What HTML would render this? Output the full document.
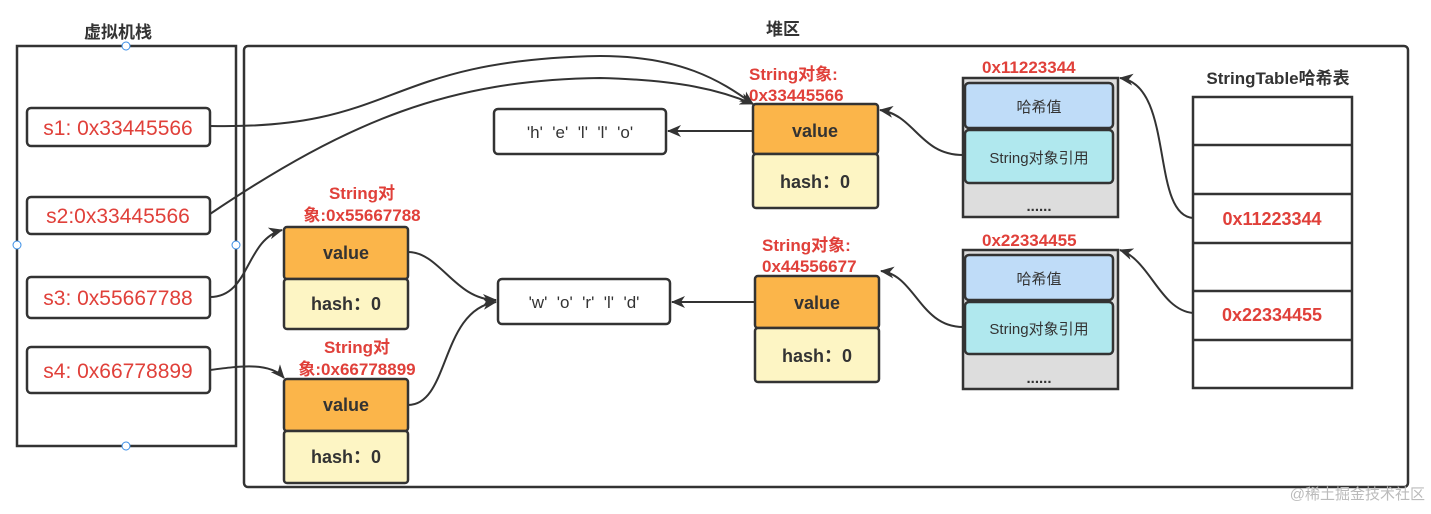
<!DOCTYPE html>
<html><head><meta charset="utf-8"><style>
body{margin:0;background:#fff}
svg text{font-family:"Liberation Sans","Noto Sans CJK SC",sans-serif}
</style></head><body>
<svg width="1431" height="509" viewBox="0 0 1431 509" xmlns="http://www.w3.org/2000/svg">
<defs><marker id="a" markerWidth="14" markerHeight="12" refX="13" refY="6" orient="auto" markerUnits="userSpaceOnUse"><path d="M0,0 L14,6 L0,12 L4,6 z" fill="#333"/></marker></defs>
<g fill="none" stroke="#333" stroke-width="2.5">
<rect x="17" y="46" width="219" height="400"/>
<rect x="244" y="46" width="1164" height="441" rx="4"/>
</g>
<g fill="#fff" stroke="#3a8ee6" stroke-width="1"><circle cx="126" cy="46" r="4"/><circle cx="17" cy="245" r="4"/><circle cx="236" cy="245" r="4"/><circle cx="126" cy="446" r="4"/></g>
<text x="118" y="38" font-size="17" font-weight="bold" text-anchor="middle" fill="#333">虚拟机栈</text>
<text x="783" y="35" font-size="17" font-weight="bold" text-anchor="middle" fill="#333">堆区</text>
<g fill="#fff" stroke="#333" stroke-width="2.5">
<rect x="27" y="108" width="183" height="38" rx="4"/>
<rect x="27" y="197" width="183" height="37" rx="4"/>
<rect x="27" y="277" width="183" height="41" rx="4"/>
<rect x="27" y="347" width="183" height="46" rx="4"/>
<rect x="494" y="109" width="172" height="45" rx="4"/>
<rect x="498" y="279" width="172" height="45" rx="4"/>
</g>
<g font-size="21" fill="#e0403a" text-anchor="middle">
<text x="118" y="135">s1: 0x33445566</text>
<text x="118" y="223">s2:0x33445566</text>
<text x="118" y="305">s3: 0x55667788</text>
<text x="118" y="378">s4: 0x66778899</text>
</g>
<g font-size="17" fill="#333" text-anchor="middle">
<text x="580" y="138" xml:space="preserve">'h'  'e'  'l'  'l'  'o'</text>
<text x="584" y="308" xml:space="preserve">'w'  'o'  'r'  'l'  'd'</text>
</g>
<g stroke="#333" stroke-width="2.5">
<rect x="284" y="227" width="124" height="52" rx="3" fill="#fbb54a"/><rect x="284" y="279" width="124" height="50" rx="3" fill="#fdf5c4"/>
<rect x="284" y="379" width="124" height="52" rx="3" fill="#fbb54a"/><rect x="284" y="431" width="124" height="52" rx="3" fill="#fdf5c4"/>
<rect x="753" y="104" width="125" height="50" rx="3" fill="#fbb54a"/><rect x="753" y="154" width="125" height="54" rx="3" fill="#fdf5c4"/>
<rect x="755" y="276" width="124" height="52" rx="3" fill="#fbb54a"/><rect x="755" y="328" width="124" height="54" rx="3" fill="#fdf5c4"/>
</g>
<g font-size="18" font-weight="bold" fill="#333" text-anchor="middle">
<text x="346" y="259">value</text><text x="346" y="310">hash：0</text>
<text x="346" y="411">value</text><text x="346" y="463">hash：0</text>
<text x="815" y="137">value</text><text x="815" y="188">hash：0</text>
<text x="817" y="309">value</text><text x="817" y="362">hash：0</text>
</g>
<g font-size="17" font-weight="bold" fill="#e0403a">
<text x="362" y="199" text-anchor="middle">String对</text><text x="362" y="221" text-anchor="middle">象:0x55667788</text>
<text x="357" y="353" text-anchor="middle">String对</text><text x="357" y="375" text-anchor="middle">象:0x66778899</text>
<text x="749" y="80">String对象:</text><text x="749" y="101">0x33445566</text>
<text x="762" y="251">String对象:</text><text x="762" y="272">0x44556677</text>
<text x="982" y="73">0x11223344</text><text x="982" y="246">0x22334455</text>
</g>
<g stroke="#333" stroke-width="2.5">
<rect x="963" y="78" width="155" height="139" fill="#ddd"/>
<rect x="965" y="83" width="148" height="45" rx="4" fill="#bfdcf8"/>
<rect x="965" y="130" width="148" height="53" rx="4" fill="#b0e8ee"/>
<rect x="963" y="250" width="155" height="139" fill="#ddd"/>
<rect x="965" y="255" width="148" height="45" rx="4" fill="#bfdcf8"/>
<rect x="965" y="302" width="148" height="52" rx="4" fill="#b0e8ee"/>
<rect x="1193" y="97" width="159" height="291" fill="#fff"/>
<path d="M1193 145H1352M1193 194H1352M1193 243H1352M1193 291H1352M1193 340H1352"/>
</g>
<g font-size="15" fill="#333" text-anchor="middle">
<text x="1039" y="112">哈希值</text><text x="1039" y="163">String对象引用</text><text x="1039" y="211" font-weight="bold">......</text>
<text x="1039" y="284">哈希值</text><text x="1039" y="334">String对象引用</text><text x="1039" y="383" font-weight="bold">......</text>
</g>
<text x="1278" y="84" font-size="17" font-weight="bold" fill="#333" text-anchor="middle">StringTable哈希表</text>
<g font-size="18" font-weight="bold" fill="#e0403a" text-anchor="middle"><text x="1272" y="225">0x11223344</text><text x="1272" y="321">0x22334455</text></g>
<g fill="none" stroke="#333" stroke-width="2" marker-end="url(#a)">
<path d="M210 126 C400 130 380 60 600 56 C680 56 720 80 753 104"/>
<path d="M210 214 C350 120 450 80 600 78 C680 80 720 90 753 104"/>
<path d="M210 297 C250 297 245 240 282 230"/>
<path d="M210 370 C240 366 270 362 284 378"/>
<path d="M753 131 H668"/>
<path d="M755 302 H672"/>
<path d="M408 252 C440 252 455 300 496 300"/>
<path d="M408 405 C450 405 440 310 496 302"/>
<path d="M963 155 C920 155 915 115 880 110"/>
<path d="M963 327 C920 327 915 275 881 271"/>
<path d="M1193 218 C1150 215 1175 85 1120 78"/>
<path d="M1193 313 C1160 310 1150 260 1120 250"/>
</g>
<text x="1425" y="499" font-size="15" fill="#bbb" text-anchor="end">@稀土掘金技术社区</text>
</svg>
</body></html>
